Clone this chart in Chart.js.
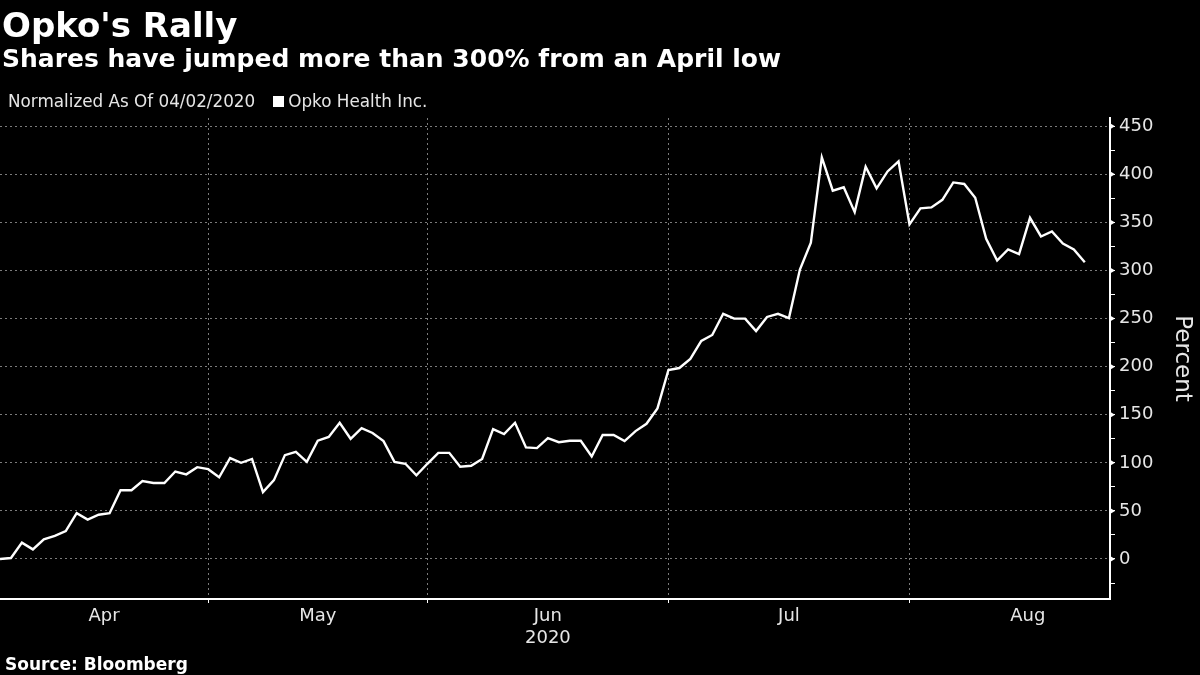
<!DOCTYPE html>
<html>
<head>
<meta charset="utf-8">
<script src="https://cdn.jsdelivr.net/npm/chart.js@4.4.0/dist/chart.umd.min.js"></script>
<style>
  html, body { margin: 0; padding: 0; background: #000; }
  body { width: 1200px; height: 675px; position: relative; overflow: hidden;
         font-family: "DejaVu Sans", sans-serif; color: #fff; }
  .t { position: absolute; white-space: nowrap; line-height: 1; }
  #title { left: 2px; top: 8px; font-size: 34px; font-weight: bold; }
  #sub { left: 2px; top: 46px; font-size: 25px; font-weight: bold; }
  #legend { left: 8px; top: 93px; font-size: 16.8px; color: #e6e6e6; }
  #legend .sw { display: inline-block; width: 11px; height: 11px; background: #fff; margin: 0 4px 0 18px; }
  #source { left: 5px; top: 656px; font-size: 17px; font-weight: bold; }
  #chart { position: absolute; left: 0; top: 0; }
</style>
</head>
<body>
<canvas id="chart" width="1200" height="675"></canvas>
<div class="t" id="title">Opko's Rally</div>
<div class="t" id="sub">Shares have jumped more than 300% from an April low</div>
<div class="t" id="legend">Normalized As Of 04/02/2020<span class="sw"></span>Opko Health Inc.</div>
<div class="t" id="source">Source: Bloomberg</div>
<script>
// Opko Health, % change since 04/02/2020, one value per trading day (Apr 2 .. Aug 24)
const opko = [
  0, 1, 17, 10, 20.5, 24, 29, 47.6, 41, 46,
  47.6, 71.5, 71.5, 81, 79, 79, 91, 88, 95.5, 93.4,
  85, 105, 100, 104, 69.5, 82, 108, 111.5, 101, 123,
  127, 141.7, 125, 136, 131, 122.6, 101, 99, 87, 99,
  110.4, 110.4, 96, 97, 104, 135, 130, 141.7, 116, 115.3,
  125.7, 121.5, 123, 123, 106.6, 129, 129, 122.6, 133, 140.6,
  156.6, 196.5, 198.6, 208, 226.7, 233, 255, 250, 250, 237,
  251.7, 255, 250.5, 301, 329, 417.7, 383, 386.5, 360.7, 408,
  385.4, 403, 413.5, 348, 364.6, 365.6, 373.5, 391.6, 390, 375.7,
  333, 310.4, 322, 317, 354.8, 335.4, 340.6, 328, 322, 308.5
];

// month labels sit in the middle of each month, grid lines at month ends (trading-day index)
const monthLabels = ["Apr", "May", ["Jun", "2020"], "Jul", "Aug"];
const monthCenters = [9.5, 29, 50, 72, 93.8];
const monthEnds = [19, 39, 61, 83];

const yMajor = [0, 50, 100, 150, 200, 250, 300, 350, 400, 450];
const yMinor = [-25, 0, 25, 50, 75, 100, 125, 150, 175, 200, 225, 250, 275, 300, 325, 350, 375, 400, 425, 450];

const gridColor = "rgba(190,190,190,0.65)";
const textColor = "#e6e6e6";

Chart.defaults.font.family = "'DejaVu Sans', sans-serif";
Chart.defaults.color = textColor;

// small arrow heads on the major y ticks
const tickArrows = {
  id: "tickArrows",
  afterDraw(chart) {
    const y = chart.scales.y;
    const ctx = chart.ctx;
    const x0 = chart.chartArea.right;
    ctx.save();
    ctx.fillStyle = "#fff";
    yMajor.forEach(function (v) {
      const py = y.getPixelForValue(v);
      ctx.beginPath();
      ctx.moveTo(x0, py - 3);
      ctx.lineTo(x0 + 5, py);
      ctx.lineTo(x0, py + 3);
      ctx.closePath();
      ctx.fill();
    });
    ctx.restore();
  }
};

const xTicks = monthCenters.concat(monthEnds);
const isEnd = (v) => monthEnds.indexOf(v) >= 0;

new Chart(document.getElementById("chart"), {
  type: "line",
  data: {
    datasets: [{
      label: "Opko Health Inc.",
      data: opko.map((v, i) => ({ x: i, y: v })),
      borderColor: "#fff",
      borderWidth: 2.4,
      pointRadius: 0,
      tension: 0
    }]
  },
  options: {
    responsive: false,
    animation: false,
    layout: { padding: { top: 118, bottom: 26, left: 0, right: 0 } },
    plugins: { legend: { display: false }, tooltip: { enabled: false } },
    scales: {
      x: {
        type: "linear",
        min: 0,
        max: 101.3,
        afterBuildTicks: (s) => { s.ticks = xTicks.map((v) => ({ value: v })); },
        afterFit: (s) => { s.height = 50; },
        grid: {
          color: (c) => (c.tick && isEnd(c.tick.value) ? gridColor : "transparent"),
          tickColor: (c) => (c.tick && isEnd(c.tick.value) ? "#fff" : "transparent"),
          tickLength: 4,
          tickBorderDash: []
        },
        border: { display: true, color: "#fff", width: 2, dash: [2, 3] },
        ticks: {
          autoSkip: false,
          maxRotation: 0,
          padding: 3,
          font: { size: 18 },
          color: textColor,
          callback: (v) => {
            const i = monthCenters.indexOf(v);
            return i >= 0 ? monthLabels[i] : "";
          }
        }
      },
      y: {
        position: "right",
        min: -41.6,
        max: 458.6,
        afterBuildTicks: (s) => { s.ticks = yMinor.map((v) => ({ value: v })); },
        afterFit: (s) => { s.width = 90; },
        grid: {
          color: (c) => (c.tick && c.tick.value % 50 === 0 ? gridColor : "transparent"),
          tickColor: "#fff",
          tickLength: 5,
          tickBorderDash: []
        },
        border: { display: true, color: "#fff", width: 2, dash: [2, 3] },
        ticks: {
          padding: 4,
          font: { size: 18 },
          color: textColor,
          callback: (v) => (v % 50 === 0 ? String(v) : "")
        },
        title: {
          display: true,
          text: "Percent",
          font: { size: 23 },
          color: textColor,
          padding: { top: 4, bottom: 0 }
        }
      }
    }
  },
  plugins: [tickArrows]
});
</script>
</body>
</html>
